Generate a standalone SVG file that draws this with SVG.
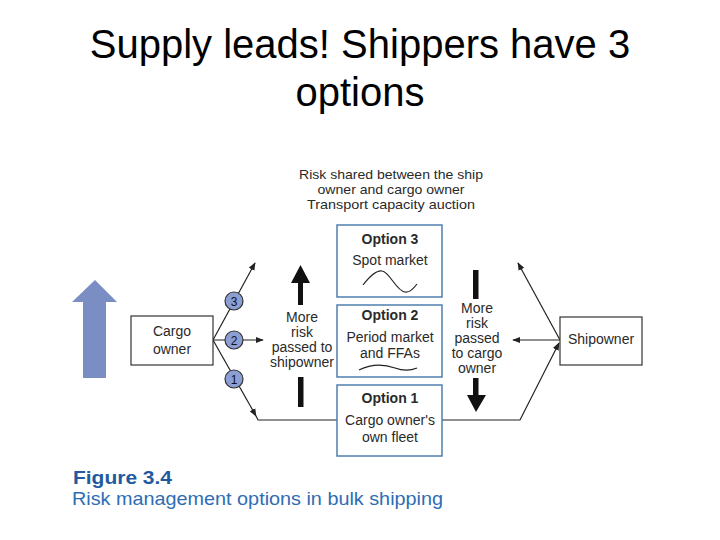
<svg xmlns="http://www.w3.org/2000/svg" width="720" height="540" viewBox="0 0 720 540">
  <style>
    .t { font-family: "Liberation Sans", Arial, sans-serif; fill: #2a2a2a; font-size: 14px; text-anchor: middle; }
    .h { font-family: "Liberation Sans", Arial, sans-serif; fill: #2a2a2a; font-size: 13px; text-anchor: middle; }
    .b { font-weight: bold; }
    .box { fill: #fff; stroke: #333; stroke-width: 1.2; }
    .opt { fill: #fff; stroke: #4f7fae; stroke-width: 1.5; }
    .ln { fill: none; stroke: #222; stroke-width: 1.2; }
    .circ { fill: #8c9fd4; stroke: #333; stroke-width: 1.2; }
    .num { font-family: "Liberation Sans", Arial, sans-serif; font-size: 12px; fill: #111; text-anchor: middle; }
  </style>
  <defs>
    <marker id="ah" viewBox="0 0 10 10" refX="9" refY="5" markerWidth="8" markerHeight="8" markerUnits="userSpaceOnUse" orient="auto">
      <path d="M0,1 L10,5 L0,9 Z" fill="#222"/>
    </marker>
  </defs>

  <g id="title">
    <text x="360" y="58" style="font-family:'Liberation Sans',Arial,sans-serif;font-size:40px;text-anchor:middle;fill:#000">Supply leads! Shippers have 3</text>
    <text x="360" y="106" style="font-family:'Liberation Sans',Arial,sans-serif;font-size:40px;text-anchor:middle;fill:#000">options</text>
  </g>

  <g id="big-arrow">
    <polygon points="83,378 83,302 72,302 95,280 117,302 106,302 106,378" fill="#7b8ec4"/>
  </g>

  <g id="header-text">
    <text class="h" x="391" y="179" textLength="184" lengthAdjust="spacingAndGlyphs">Risk shared between the ship</text>
    <text class="h" x="391" y="194" textLength="147" lengthAdjust="spacingAndGlyphs">owner and cargo owner</text>
    <text class="h" x="391" y="209" textLength="168" lengthAdjust="spacingAndGlyphs">Transport capacity auction</text>
  </g>

  <g id="connectors">
    <line class="ln" x1="213" y1="340" x2="255" y2="263" marker-end="url(#ah)"/>
    <line class="ln" x1="213" y1="340" x2="263" y2="340" marker-end="url(#ah)"/>
    <line class="ln" x1="213" y1="340" x2="256" y2="416" marker-end="url(#ah)"/>
    <polyline class="ln" points="256,416 258,420 337,420"/>
    <line class="ln" x1="560" y1="340" x2="518" y2="263" marker-end="url(#ah)"/>
    <line class="ln" x1="560" y1="340" x2="513" y2="340" marker-end="url(#ah)"/>
    <polyline class="ln" points="442,420 520,420 559,343" marker-end="url(#ah)"/>
  </g>

  <g id="cargo-owner">
    <rect class="box" x="131" y="316" width="82" height="49"/>
    <text class="t" x="172" y="336">Cargo</text>
    <text class="t" x="172" y="354">owner</text>
  </g>

  <g id="circle-3">
    <circle class="circ" cx="234" cy="301" r="9"/>
    <text class="num" x="234" y="305.5">3</text>
  </g>
  <g id="circle-2">
    <circle class="circ" cx="234" cy="340" r="9"/>
    <text class="num" x="234" y="344.5">2</text>
  </g>
  <g id="circle-1">
    <circle class="circ" cx="234" cy="379" r="9"/>
    <text class="num" x="234" y="383.5">1</text>
  </g>

  <g id="risk-to-shipowner">
    <polygon points="298,305 298,283 291,283 300.5,265 310,283 303,283 303,305" fill="#111"/>
    <rect x="298" y="377" width="5.5" height="30" fill="#111"/>
    <text class="t" x="302" y="322">More</text>
    <text class="t" x="302" y="337">risk</text>
    <text class="t" x="302" y="352">passed to</text>
    <text class="t" x="302" y="367">shipowner</text>
  </g>

  <g id="option-3">
    <rect class="opt" x="337" y="225" width="105" height="72"/>
    <text class="t b" x="390" y="244">Option 3</text>
    <text class="t" x="390" y="265">Spot market</text>
    <path class="ln" d="M363,285 C370,276 376,270 382,271 C390,272 396,291 405,292 C410,293 414,288 417,284"/>
  </g>

  <g id="option-2">
    <rect class="opt" x="337" y="305" width="105" height="72"/>
    <text class="t b" x="390" y="320">Option 2</text>
    <text class="t" x="390" y="342">Period market</text>
    <text class="t" x="390" y="358">and FFAs</text>
    <path class="ln" d="M359,370 C371,364 384,364 395,368 C403,371 410,371 417,368"/>
  </g>

  <g id="option-1">
    <rect class="opt" x="337" y="385" width="105" height="71"/>
    <text class="t b" x="390" y="403">Option 1</text>
    <text class="t" x="390" y="425">Cargo owner's</text>
    <text class="t" x="390" y="442">own fleet</text>
  </g>

  <g id="risk-to-cargo-owner">
    <rect x="473" y="270" width="5.5" height="29" fill="#111"/>
    <polygon points="473,378 473,395 467,395 476,412 486,395 478.5,395 478.5,378" fill="#111"/>
    <text class="t" x="477" y="313">More</text>
    <text class="t" x="477" y="328">risk</text>
    <text class="t" x="477" y="343">passed</text>
    <text class="t" x="477" y="358">to cargo</text>
    <text class="t" x="477" y="373">owner</text>
  </g>

  <g id="shipowner">
    <rect class="box" x="560" y="317" width="82" height="48"/>
    <text class="t" x="601" y="344">Shipowner</text>
  </g>

  <g id="caption">
    <text x="73" y="484" textLength="99" lengthAdjust="spacingAndGlyphs" style="font-family:'Liberation Sans',Arial,sans-serif;font-size:19px;font-weight:bold;fill:#1f5aa0">Figure 3.4</text>
    <text x="72" y="505" textLength="371" lengthAdjust="spacingAndGlyphs" style="font-family:'Liberation Sans',Arial,sans-serif;font-size:18.5px;fill:#2e6db4">Risk management options in bulk shipping</text>
  </g>
</svg>
